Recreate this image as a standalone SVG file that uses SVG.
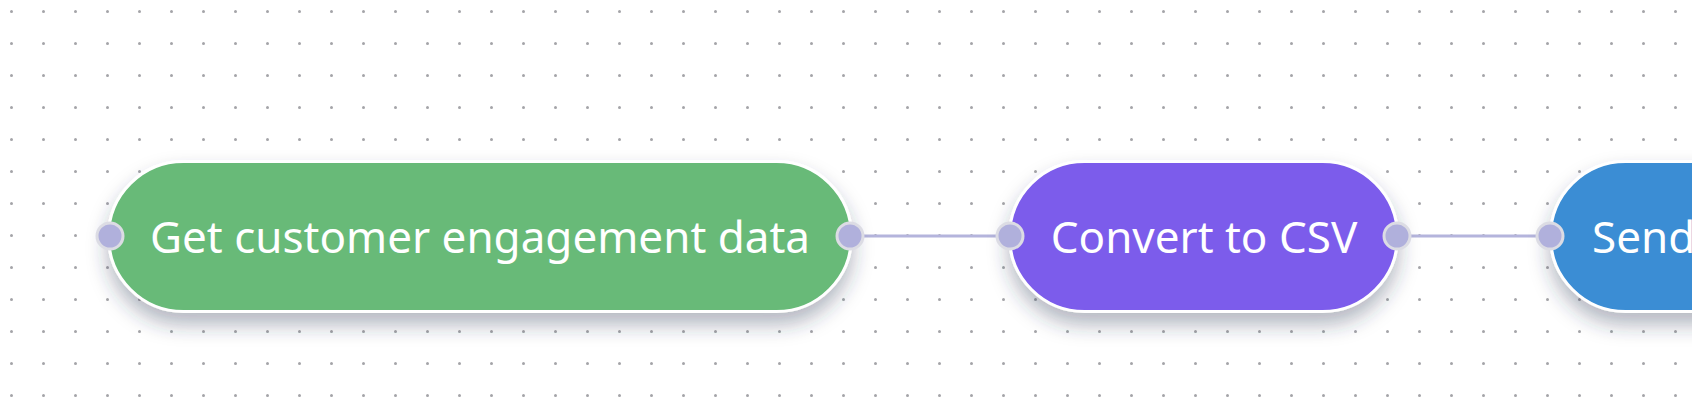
<svg xmlns="http://www.w3.org/2000/svg" width="1692" height="418" viewBox="0 0 1692 418">
  <defs>
    <pattern id="dots" x="0" y="0" width="32" height="32" patternUnits="userSpaceOnUse">
      <circle cx="11.5" cy="11.5" r="1.5" fill="#a4a4a8"/>
    </pattern>
    <filter id="shadow" x="-20%" y="-30%" width="140%" height="180%">
      <feDropShadow dx="0" dy="12" stdDeviation="10" flood-color="#2a3350" flood-opacity="0.35"/>
    </filter>
    <style>
      .pill { stroke: #ffffff; stroke-width: 3; filter: url(#shadow); }
      .label { font-family: "Noto Sans", "Open Sans", sans-serif; font-size: 44px; fill: #ffffff; }
      .port { fill: #b0b0dc; stroke: #dcdce4; stroke-width: 3; }
      .edge { stroke: #b4b4dc; stroke-width: 3; fill: none; }
    </style>
  </defs>
  <rect width="1692" height="418" fill="#ffffff"/>
  <rect width="1692" height="418" fill="url(#dots)"/>

  <g id="connectors">
    <line class="edge" x1="850" y1="236" x2="1010" y2="236"/>
    <line class="edge" x1="1397" y1="236" x2="1550" y2="236"/>
  </g>

  <g id="node-get-data">
    <rect class="pill" x="108.5" y="161.5" width="743" height="150" rx="75" fill="#67ba78"/>
    <text class="label" x="480" y="253" text-anchor="middle">Get customer engagement data</text>
    <circle class="port" cx="110" cy="236" r="13"/>
    <circle class="port" cx="850" cy="236" r="13"/>
  </g>

  <g id="node-convert">
    <rect class="pill" x="1009.5" y="161.5" width="388" height="150" rx="75" fill="#7c5ceb"/>
    <text class="label" x="1204" y="253" text-anchor="middle">Convert to CSV</text>
    <circle class="port" cx="1010" cy="236" r="13"/>
    <circle class="port" cx="1397" cy="236" r="13"/>
  </g>

  <g id="node-send">
    <rect class="pill" x="1550.5" y="161.5" width="400" height="150" rx="75" fill="#3b8dd4"/>
    <text class="label" x="1592" y="253">Send</text>
    <circle class="port" cx="1550" cy="236" r="13"/>
  </g>
</svg>
